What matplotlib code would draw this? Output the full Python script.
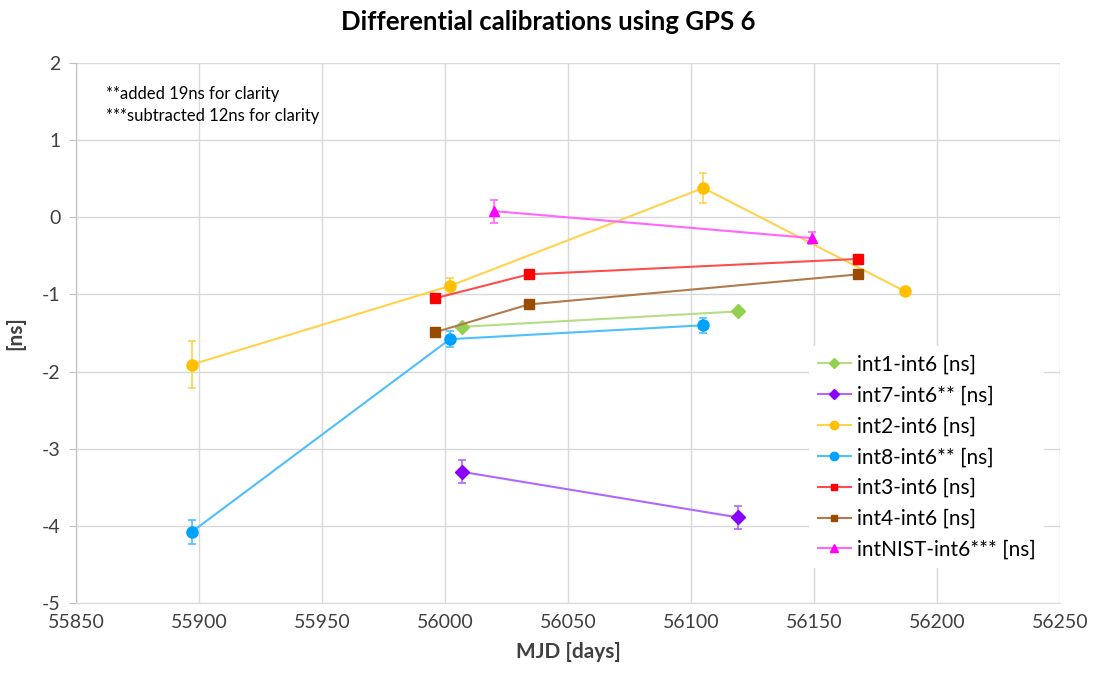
import matplotlib
matplotlib.use('Agg')
import matplotlib.pyplot as plt
from matplotlib.lines import Line2D

plt.rcParams['font.family'] = ['Lato', 'DejaVu Sans']
plt.rcParams['axes.unicode_minus'] = False

# MJD / ns values
int1_x = [56007, 56119]
int1_y = [-1.42, -1.22]
int1_e = [0.0, 0.0]

int7_x = [56007, 56119]
int7_y = [-3.30, -3.89]
int7_e = [0.15, 0.15]

int2_x = [55897, 56002, 56105, 56187]
int2_y = [-1.91, -0.89, 0.38, -0.96]
int2_e = [0.30, 0.10, 0.20, 0.0]

int8_x = [55897, 56002, 56105]
int8_y = [-4.08, -1.58, -1.40]
int8_e = [0.15, 0.10, 0.10]

int3_x = [55996, 56034, 56168]
int3_y = [-1.05, -0.74, -0.54]
int3_e = [0.0, 0.0, 0.0]

int4_x = [55996, 56034, 56168]
int4_y = [-1.49, -1.13, -0.74]
int4_e = [0.0, 0.0, 0.0]

nist_x = [56020, 56149]
nist_y = [0.08, -0.27]
nist_e = [0.15, 0.08]

series = [
    ('int1-int6 [ns]', int1_x, int1_y, int1_e, '#92d050', '#b4de86', 'D', 7),
    ('int7-int6** [ns]', int7_x, int7_y, int7_e, '#8a00ff', '#b066ff', 'D', 7),
    ('int2-int6 [ns]', int2_x, int2_y, int2_e, '#ffc000', '#ffd24d', 'o', 8),
    ('int8-int6** [ns]', int8_x, int8_y, int8_e, '#00a2ff', '#4dbfff', 'o', 8),
    ('int3-int6 [ns]', int3_x, int3_y, int3_e, '#ff0000', '#ff4d4d', 's', 6.5),
    ('int4-int6 [ns]', int4_x, int4_y, int4_e, '#994c00', '#b07a4d', 's', 6.5),
    ('intNIST-int6*** [ns]', nist_x, nist_y, nist_e, '#ff00ff', '#ff66ff', '^', 7),
]

fig = plt.figure(figsize=(10.96, 6.79), dpi=100)
ax = fig.add_axes([76/1096, 1 - 603/679, (1060-76)/1096, (603-63)/679])

handles = []
for label, xs, ys, es, mc, lc, mk, ms in series:
    ax.errorbar(xs, ys, yerr=es, color=lc, ecolor=lc, elinewidth=1.2, capsize=3,
                capthick=1.2, linewidth=1.5, marker=mk, markersize=ms,
                markerfacecolor=mc, markeredgecolor=mc, zorder=3)
    handles.append(Line2D([], [], color=lc, linewidth=1.5, marker=mk,
                          markersize=ms * 0.75, markerfacecolor=mc,
                          markeredgecolor=mc, label=label))

ax.set_xlim(55850, 56250)
ax.set_ylim(-5, 2)
ax.set_xticks(range(55850, 56251, 50))
ax.set_yticks(range(-5, 3))
ax.grid(True, color='#d9d9d9', linewidth=1)
ax.set_axisbelow(True)
for s in ['top', 'right']:
    ax.spines[s].set_visible(False)
ax.spines['left'].set_color('#bfbfbf')
ax.spines['bottom'].set_color('#d9d9d9')
ax.tick_params(axis='both', labelsize=14, colors='#404040', length=5)
ax.tick_params(axis='x', length=0, pad=8)
ax.tick_params(axis='y', color='#bfbfbf', pad=6)

ax.set_xlabel('MJD [days]', fontsize=15, fontweight='bold', color='#404040', labelpad=8)
ax.set_ylabel('[ns]', fontsize=15, fontweight='bold', color='#404040', labelpad=12)
fig.suptitle('Differential calibrations using GPS 6', x=0.5, y=0.985,
             fontsize=18.5, fontweight='bold')

ax.text(0.03, 0.958, '**added 19ns for clarity\n***subtracted 12ns for clarity',
        transform=ax.transAxes, fontsize=12, va='top', linespacing=1.45)

leg = ax.legend(handles=handles, loc='upper left',
                bbox_to_anchor=(799/1096, 1 - 336/679),
                bbox_transform=fig.transFigure, fontsize=15, frameon=True,
                fancybox=False, edgecolor='none', framealpha=1,
                handlelength=1.6, handletextpad=0.3, labelspacing=0.52,
                borderpad=0.4)

fig.savefig('out.png', dpi=100)
